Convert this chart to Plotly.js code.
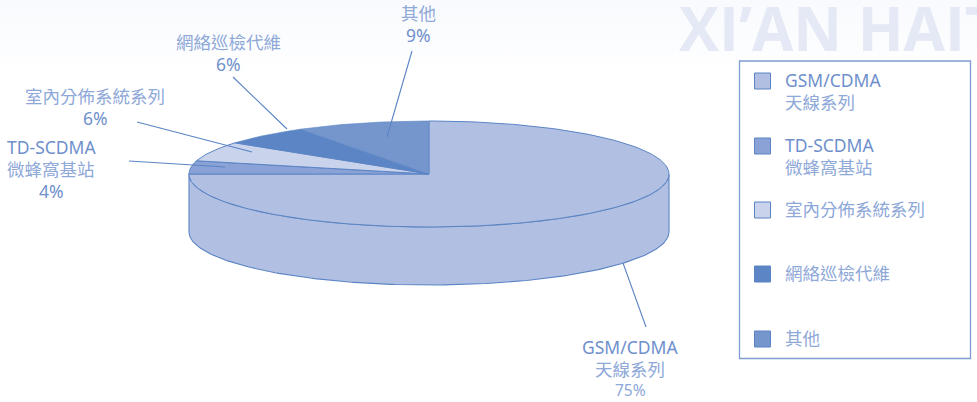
<!DOCTYPE html>
<html><head><meta charset="utf-8">
<script src="https://cdn.plot.ly/plotly-3.0.1.min.js"></script>
<style>
html,body{margin:0;padding:0;width:977px;height:402px;overflow:hidden;
background:linear-gradient(to bottom,#f9fafd 0px,#fbfcfe 35px,#ffffff 75px);}
#c{width:977px;height:402px}
</style></head><body><div id="c"></div>
<script>
const categories = ['GSM/CDMA 天線系列','TD-SCDMA 微蜂窩基站','室內分佈系統系列','網絡巡檢代維','其他'];
const shares = [75,4,6,6,9];
const colors = ['#b1c0e2','#8aa2d5','#c9d3ec','#5c85c5','#7496cc'];
const legendLines = [['GSM/CDMA','天線系列'],['TD-SCDMA','微蜂窩基站'],['室內分佈系統系列'],['網絡巡檢代維'],['其他']];
const outline = '#5b84c4';
const W=977,H=402,cx=429,cy=174,rx=240,ry=53,depthPx=58;
const depth=depthPx/ry;
const px=x=>x/W, py=y=>1-y/H;
const pt=a=>[Math.sin(a),Math.cos(a)];
function arc(a0,a1,dy){const n=Math.max(2,Math.ceil(Math.abs(a1-a0)/0.02));const r=[];
  for(let i=0;i<=n;i++){const p=pt(a0+(a1-a0)*i/n);r.push([p[0],p[1]-dy]);}return r;}
const traces=[];
const wall=[...arc(Math.PI/2,3*Math.PI/2,0),...arc(3*Math.PI/2,Math.PI/2,depth)];
wall.push(wall[0]);
traces.push({x:wall.map(p=>p[0]),y:wall.map(p=>p[1]),mode:'lines',fill:'toself',fillcolor:colors[0],
  line:{color:outline,width:1.1},hoverinfo:'skip',showlegend:false});
const total=shares.reduce((a,b)=>a+b,0);let acc=0;
const slices=shares.map((v,i)=>{const a0=acc/total*2*Math.PI;acc+=v;const a1=acc/total*2*Math.PI;
  const p=[[0,0],...arc(a0,a1,0),[0,0]];
  return {x:p.map(q=>q[0]),y:p.map(q=>q[1]),mode:'lines',fill:'toself',fillcolor:colors[i],
    line:{color:outline,width:i>=3?0.6:1},name:categories[i],text:categories[i]+' '+v+'%',hoverinfo:'text',showlegend:false};});
traces.push(...slices);
const ann=[],shapes=[];
const fam='"Noto Sans","Noto Sans CJK TC",sans-serif';
const latin='#6f90cc', light='#8ea8d8';
function line(x,y,text,color,size,anchor){ann.push({xref:'paper',yref:'paper',x:px(x),y:py(y),xanchor:anchor||'center',yanchor:'middle',
  text:text,showarrow:false,font:{family:fam,size:size||17.5,color:color}});}
line(418,13,'其他',light);line(418,35,shares[4]+'%',latin);
line(228,42,'網絡巡檢代維',light);line(228,64,shares[3]+'%',latin);
line(95,96,'室內分佈系統系列',light);line(95,118,shares[2]+'%',latin);
line(51,146.5,'TD-SCDMA',latin);line(51,168.5,'微蜂窩基站',light);line(51,190.5,shares[1]+'%',latin);
line(630,347,'GSM/CDMA',latin);line(630,369,'天線系列',light);line(630,390,shares[0]+'%',light,15.5);
const leaders=[[412,51,387,137],[233,77,287,129],[137,122,252,152],[129,161,225,167],[623,263,646,327]];
leaders.forEach(l=>shapes.push({type:'line',xref:'paper',yref:'paper',x0:px(l[0]),y0:py(l[1]),x1:px(l[2]),y1:py(l[3]),
  line:{color:outline,width:1.1}}));
shapes.push({type:'rect',xref:'paper',yref:'paper',x0:px(739.5),x1:px(970.5),y0:py(61),y1:py(358.5),
  line:{color:'#7d9dd2',width:1.3},fillcolor:'rgba(255,255,255,1)',layer:'below'});
const rowTop=[73,138,202,266,331];
rowTop.forEach((t,i)=>{shapes.push({type:'rect',xref:'paper',yref:'paper',x0:px(754.5),x1:px(770.5),y0:py(t),y1:py(t+16),
  fillcolor:colors[i],line:{color:outline,width:1}});
  const ls=legendLines[i];
  ls.forEach((s,j)=>{
    const y=ls.length>1?t+7+j*22:t+7;
    line(783,y,s,/^[A-Z]/.test(s)?latin:light,17.5,'left');
  });});
ann.push({xref:'paper',yref:'paper',x:px(677),y:py(28),xanchor:'left',yanchor:'middle',text:'XI’AN HAIT',showarrow:false,
  font:{family:'"Open Sans",sans-serif',size:60,color:'#e4e9f5',weight:700}});
Plotly.newPlot('c',traces,{
  width:W,height:H,margin:{l:0,r:0,t:0,b:0},paper_bgcolor:'rgba(0,0,0,0)',plot_bgcolor:'rgba(0,0,0,0)',showlegend:false,
  xaxis:{visible:false,range:[(0-cx)/rx,(W-cx)/rx],fixedrange:true},
  yaxis:{visible:false,range:[(cy-H)/ry,cy/ry],fixedrange:true},
  annotations:ann,shapes:shapes},{displayModeBar:false,responsive:false});
</script></body></html>
